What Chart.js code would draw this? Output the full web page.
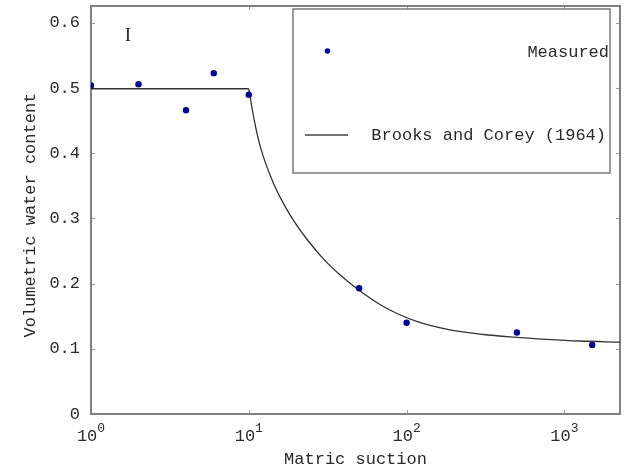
<!DOCTYPE html>
<html>
<head>
<meta charset="utf-8">
<script src="https://cdn.jsdelivr.net/npm/chart.js@4"></script>
<style>
  html, body { margin: 0; padding: 0; background: #fff; }
  #wrap { width: 629px; height: 473px; }
</style>
</head>
<body>
<div id="wrap"><canvas id="retentionChart"></canvas></div>
<script>

//Measured points (matric suction vs volumetric water content)

const measuredSuction = [1, 2, 4, 6, 10, 50, 100, 500, 1500];
const measuredTheta = [0.504, 0.506, 0.466, 0.523, 0.490, 0.193, 0.140, 0.125, 0.106];

//Brooks and Corey (1964) fitted curve

const curveSuction = [1, 10, 10.8, 11.8, 14.3, 18.2, 23.3, 29.7, 37.8, 48.3, 71.2, 116, 188, 306, 474, 772, 1256, 2250];
const curveTheta = [0.499, 0.499, 0.452, 0.411, 0.3545, 0.306, 0.2685, 0.238, 0.2135, 0.1925, 0.165, 0.142, 0.129, 0.122, 0.118, 0.1146, 0.112, 0.1103];

//Air entry suction: the curve is flat up to here, then falls off

const airEntry = 10;

//Axis ticks

const xTickValues = [1, 10, 100, 1000];
const xTickExponents = ["0", "1", "2", "3"];
const yTickValues = [0, 0.1, 0.2, 0.3, 0.4, 0.5, 0.6];
const yTickLabels = ["0", "0.1", "0.2", "0.3", "0.4", "0.5", "0.6"];

const seriesLabels = ["Measured", "Brooks and Corey (1964)"];
const panelLabel = "I";

const mono = "'Liberation Mono', 'DejaVu Sans Mono', monospace";
const frameColor = "#808080";
const textColor = "#2a2a2a";
const pointColor = "#00009c";
const curveColor = "#333333";

const curvePoints = curveSuction.map(function(s, i){ return { x: s, y: curveTheta[i] }; });

//Frame, inward tick marks, custom x labels, panel label and legend

const decorations = {

    id: "decorations",

    beforeDatasetsDraw(chart) {

        const ctx = chart.ctx;
        const area = chart.chartArea;
        const xs = chart.scales.x;
        const ys = chart.scales.y;

        ctx.save();

        //inward ticks
        ctx.strokeStyle = "#9a9a9a";
        ctx.lineWidth = 1;
        ctx.beginPath();
        xTickValues.forEach(function(v){
            const px = Math.round(xs.getPixelForValue(v)) + 0.5;
            ctx.moveTo(px, area.bottom);
            ctx.lineTo(px, area.bottom - 4);
            ctx.moveTo(px, area.top);
            ctx.lineTo(px, area.top + 4);
        });
        yTickValues.forEach(function(v){
            const py = Math.round(ys.getPixelForValue(v)) + 0.5;
            ctx.moveTo(area.left, py);
            ctx.lineTo(area.left + 4, py);
            ctx.moveTo(area.right, py);
            ctx.lineTo(area.right - 4, py);
        });
        ctx.stroke();

        //frame
        ctx.strokeStyle = frameColor;
        ctx.lineWidth = 2;
        ctx.strokeRect(area.left, area.top, area.right - area.left, area.bottom - area.top);

        //x tick labels as 10^n
        ctx.fillStyle = textColor;
        ctx.textBaseline = "alphabetic";
        xTickValues.forEach(function(v, i){
            const px = xs.getPixelForValue(v);
            ctx.font = "17px " + mono;
            const baseW = ctx.measureText("10").width;
            ctx.font = "13px " + mono;
            const expW = ctx.measureText(xTickExponents[i]).width;
            const start = px - (baseW + expW) / 2;
            ctx.font = "17px " + mono;
            ctx.textAlign = "left";
            ctx.fillText("10", start, area.bottom + 27);
            ctx.font = "13px " + mono;
            ctx.fillText(xTickExponents[i], start + baseW, area.bottom + 18);
        });

        //panel label
        ctx.font = "19px 'Liberation Serif', serif";
        ctx.textAlign = "center";
        ctx.textBaseline = "middle";
        ctx.fillText(panelLabel, area.left + 37, area.top + 30);

        ctx.restore();

    },

    afterDatasetsDraw(chart) {

        const ctx = chart.ctx;
        const area = chart.chartArea;

        const boxLeft = area.left + 202;
        const boxTop = area.top + 3;
        const boxRight = area.right - 10;
        const boxBottom = area.top + 167;

        ctx.save();

        ctx.fillStyle = "#ffffff";
        ctx.fillRect(boxLeft, boxTop, boxRight - boxLeft, boxBottom - boxTop);
        ctx.strokeStyle = "#7a7a7a";
        ctx.lineWidth = 1.5;
        ctx.strokeRect(boxLeft, boxTop, boxRight - boxLeft, boxBottom - boxTop);

        ctx.font = "17px " + mono;
        ctx.fillStyle = textColor;
        ctx.textAlign = "right";
        ctx.textBaseline = "middle";

        //measured entry
        ctx.beginPath();
        ctx.arc(boxLeft + 34.5, boxTop + 42, 2.8, 0, Math.PI * 2);
        ctx.fillStyle = pointColor;
        ctx.fill();
        ctx.fillStyle = textColor;
        ctx.fillText(seriesLabels[0], boxRight - 1, boxTop + 43);

        //curve entry
        ctx.strokeStyle = "#444";
        ctx.lineWidth = 1.3;
        ctx.beginPath();
        ctx.moveTo(boxLeft + 12, boxTop + 126);
        ctx.lineTo(boxLeft + 55, boxTop + 126);
        ctx.stroke();
        ctx.fillText(seriesLabels[1], boxRight - 4, boxTop + 126);

        ctx.restore();

    }

};

const chartCanvas = document.querySelector("#retentionChart");

new Chart(chartCanvas, {

    type: "scatter",

    data: {

        datasets: [

            {
                label: seriesLabels[0],
                data: measuredSuction.map(function(s, i){ return { x: s, y: measuredTheta[i] }; }),
                backgroundColor: pointColor,
                borderColor: pointColor,
                pointRadius: 3.2,
                pointBorderWidth: 0,
                showLine: false,
                order: 0
            },

            //flat part, up to the air entry value
            {
                label: seriesLabels[1],
                data: curvePoints.filter(function(p){ return p.x <= airEntry; }),
                borderColor: curveColor,
                borderWidth: 1.3,
                pointRadius: 0,
                showLine: true,
                order: 1
            },

            //falling part, beyond the air entry value
            {
                label: seriesLabels[1],
                data: curvePoints.filter(function(p){ return p.x >= airEntry; }),
                borderColor: curveColor,
                borderWidth: 1.3,
                pointRadius: 0,
                showLine: true,
                cubicInterpolationMode: "monotone",
                order: 1
            }

        ]

    },

    options: {

        responsive: true,
        maintainAspectRatio: false,
        animation: false,
        events: [],

        layout: {
            padding: { top: 6, right: 9, left: 0, bottom: 0 }
        },

        plugins: {
            legend: { display: false },
            tooltip: { enabled: false }
        },

        scales: {

            x: {
                type: "logarithmic",
                min: 1,
                max: 2250,
                afterBuildTicks: function(scale){
                    scale.ticks = xTickValues.map(function(v){ return { value: v }; });
                },
                afterFit: function(scale){
                    scale.height = 59;
                    scale.paddingLeft = 0;
                    scale.paddingRight = 0;
                },
                ticks: { display: false },
                grid: { display: false },
                border: { display: false },
                title: {
                    display: true,
                    text: "Matric suction",
                    color: textColor,
                    font: { family: mono, size: 17 },
                    padding: { top: 0, bottom: 3 }
                }
            },

            y: {
                type: "linear",
                min: 0,
                max: 0.626,
                afterBuildTicks: function(scale){
                    scale.ticks = yTickValues.map(function(v){ return { value: v }; });
                },
                afterFit: function(scale){
                    scale.width = 91;
                    scale.paddingTop = 0;
                    scale.paddingBottom = 0;
                },
                ticks: {
                    padding: 11,
                    color: textColor,
                    font: { family: mono, size: 17 },
                    callback: function(value){
                        const idx = yTickValues.findIndex(function(v){ return Math.abs(v - value) < 1e-9; });
                        return idx >= 0 ? yTickLabels[idx] : "";
                    }
                },
                grid: { display: false, drawTicks: false },
                border: { display: false },
                title: {
                    display: true,
                    text: "Volumetric water content ",
                    color: textColor,
                    font: { family: mono, size: 17 },
                    padding: { top: 20, bottom: 0 }
                }
            }

        }

    },

    plugins: [decorations]

});

</script>
</body>
</html>
